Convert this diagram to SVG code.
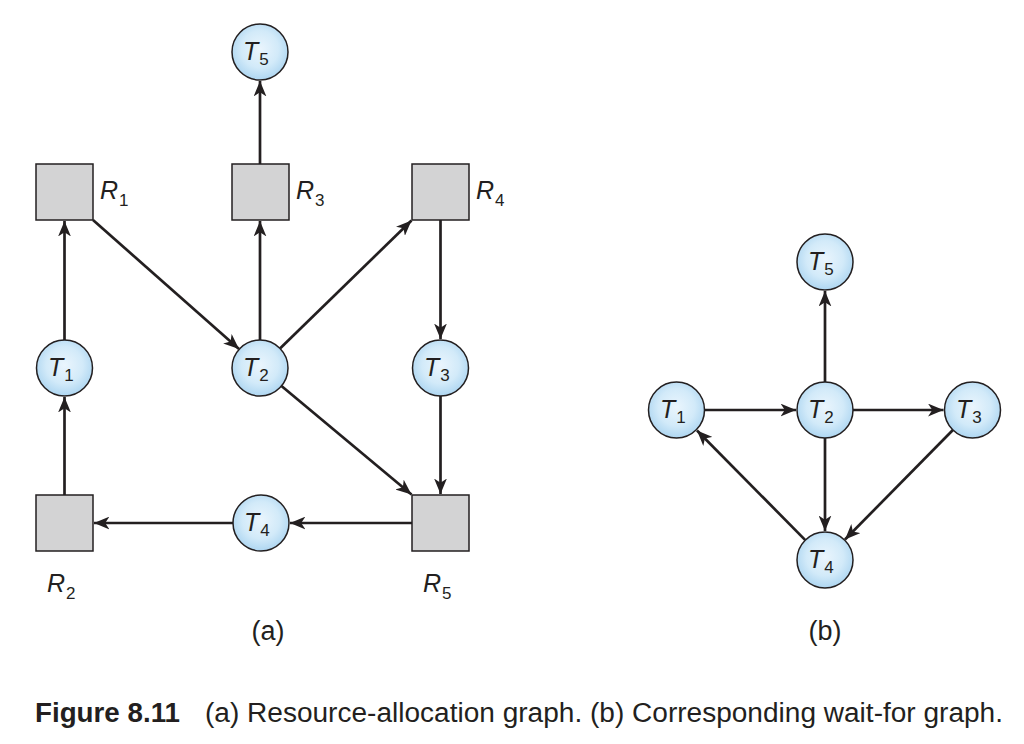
<svg xmlns="http://www.w3.org/2000/svg" width="1024" height="744" viewBox="0 0 1024 744">
<defs>
<radialGradient id="cg" cx="50%" cy="45%" r="55%">
<stop offset="0" stop-color="#eaf5fd"/>
<stop offset="0.6" stop-color="#d2eaf9"/>
<stop offset="1" stop-color="#aed6f1"/>
</radialGradient>
<marker id="ah" markerUnits="userSpaceOnUse" markerWidth="16" markerHeight="13" refX="14.5" refY="6" orient="auto" viewBox="0 0 15 12">
<path d="M0,0 L14.5,6 L0,12 L4,6 z" fill="#231f20"/>
</marker>
<style>
.t{fill:url(#cg);stroke:#231f20;stroke-width:1.5}
.r{fill:#d3d3d4;stroke:#231f20;stroke-width:1.5}
.lbl{font-family:"Liberation Sans",Arial,sans-serif;font-style:italic;font-size:25px;fill:#231f20}
.sub{font-style:normal;font-size:17px}
.e{stroke:#231f20;stroke-width:2.7;fill:none;marker-end:url(#ah)}
.cap{font-family:"Liberation Sans",Arial,sans-serif;font-size:27px;fill:#231f20}
</style>
</defs>
<rect width="1024" height="744" fill="#fff"/>
<g id="connectors">
<line class="e" x1="64.5" y1="340" x2="64.5" y2="221"/>
<line class="e" x1="64.5" y1="495" x2="64.5" y2="397"/>
<line class="e" x1="93" y1="220" x2="239" y2="349"/>
<line class="e" x1="260" y1="340" x2="260" y2="221"/>
<line class="e" x1="260" y1="164" x2="260" y2="81"/>
<line class="e" x1="280" y1="348.5" x2="411.5" y2="220.5"/>
<line class="e" x1="440.5" y1="220" x2="440.5" y2="339"/>
<line class="e" x1="440.5" y1="396" x2="440.5" y2="494"/>
<line class="e" x1="281.5" y1="386" x2="411.5" y2="494.5"/>
<line class="e" x1="412" y1="523" x2="290" y2="523"/>
<line class="e" x1="233" y1="523" x2="94" y2="523"/>
<line class="e" x1="825" y1="382" x2="825" y2="291"/>
<line class="e" x1="704.5" y1="410" x2="796" y2="410"/>
<line class="e" x1="853" y1="410" x2="943.5" y2="410"/>
<line class="e" x1="825" y1="438" x2="825" y2="531"/>
<line class="e" x1="952.9" y1="430" x2="845" y2="539.5"/>
<line class="e" x1="805.3" y1="540.1" x2="697" y2="430.5"/>
</g>
<g id="a-R1"><rect class="r" x="36" y="164" width="57" height="56"/><text class="lbl" x="100" y="199">R<tspan class="sub" dx="1" dy="7">1</tspan></text></g>
<g id="a-R3"><rect class="r" x="232" y="164" width="57" height="56"/><text class="lbl" x="296" y="199">R<tspan class="sub" dx="1" dy="7">3</tspan></text></g>
<g id="a-R4"><rect class="r" x="412" y="164" width="57" height="56"/><text class="lbl" x="476" y="199">R<tspan class="sub" dx="1" dy="7">4</tspan></text></g>
<g id="a-R2"><rect class="r" x="36" y="495" width="57" height="56"/><text class="lbl" x="47" y="592">R<tspan class="sub" dx="1" dy="7">2</tspan></text></g>
<g id="a-R5"><rect class="r" x="412" y="495" width="57" height="56"/><text class="lbl" x="423" y="592">R<tspan class="sub" dx="1" dy="7">5</tspan></text></g>
<g id="a-T5"><circle class="t" cx="260" cy="52" r="28"/><text class="lbl" x="243" y="60">T<tspan class="sub" dx="1" dy="5">5</tspan></text></g>
<g id="a-T1"><circle class="t" cx="64.5" cy="368" r="28"/><text class="lbl" x="48" y="376">T<tspan class="sub" dx="1" dy="5">1</tspan></text></g>
<g id="a-T2"><circle class="t" cx="260" cy="368" r="28"/><text class="lbl" x="243" y="376">T<tspan class="sub" dx="1" dy="5">2</tspan></text></g>
<g id="a-T3"><circle class="t" cx="440.5" cy="368" r="28"/><text class="lbl" x="424" y="376">T<tspan class="sub" dx="1" dy="5">3</tspan></text></g>
<g id="a-T4"><circle class="t" cx="261" cy="523" r="28"/><text class="lbl" x="244" y="531">T<tspan class="sub" dx="1" dy="5">4</tspan></text></g>
<g id="b-T5"><circle class="t" cx="825" cy="262" r="28"/><text class="lbl" x="808" y="270">T<tspan class="sub" dx="1" dy="5">5</tspan></text></g>
<g id="b-T1"><circle class="t" cx="676.5" cy="410" r="28"/><text class="lbl" x="660" y="418">T<tspan class="sub" dx="1" dy="5">1</tspan></text></g>
<g id="b-T2"><circle class="t" cx="825" cy="410" r="28"/><text class="lbl" x="808" y="418">T<tspan class="sub" dx="1" dy="5">2</tspan></text></g>
<g id="b-T3"><circle class="t" cx="972.5" cy="410" r="28"/><text class="lbl" x="956" y="418">T<tspan class="sub" dx="1" dy="5">3</tspan></text></g>
<g id="b-T4"><circle class="t" cx="825" cy="560" r="28"/><text class="lbl" x="808" y="568">T<tspan class="sub" dx="1" dy="5">4</tspan></text></g>
<g id="labels">
<text class="cap" x="268" y="640" text-anchor="middle" font-size="25">(a)</text>
<text class="cap" x="825" y="640" text-anchor="middle" font-size="25">(b)</text>
<text class="cap" x="35" y="722" font-weight="bold" textLength="145" lengthAdjust="spacingAndGlyphs">Figure 8.11</text>
<text class="cap" x="205" y="722" textLength="798" lengthAdjust="spacingAndGlyphs">(a) Resource-allocation graph. (b) Corresponding wait-for graph.</text>
</g>
</svg>
